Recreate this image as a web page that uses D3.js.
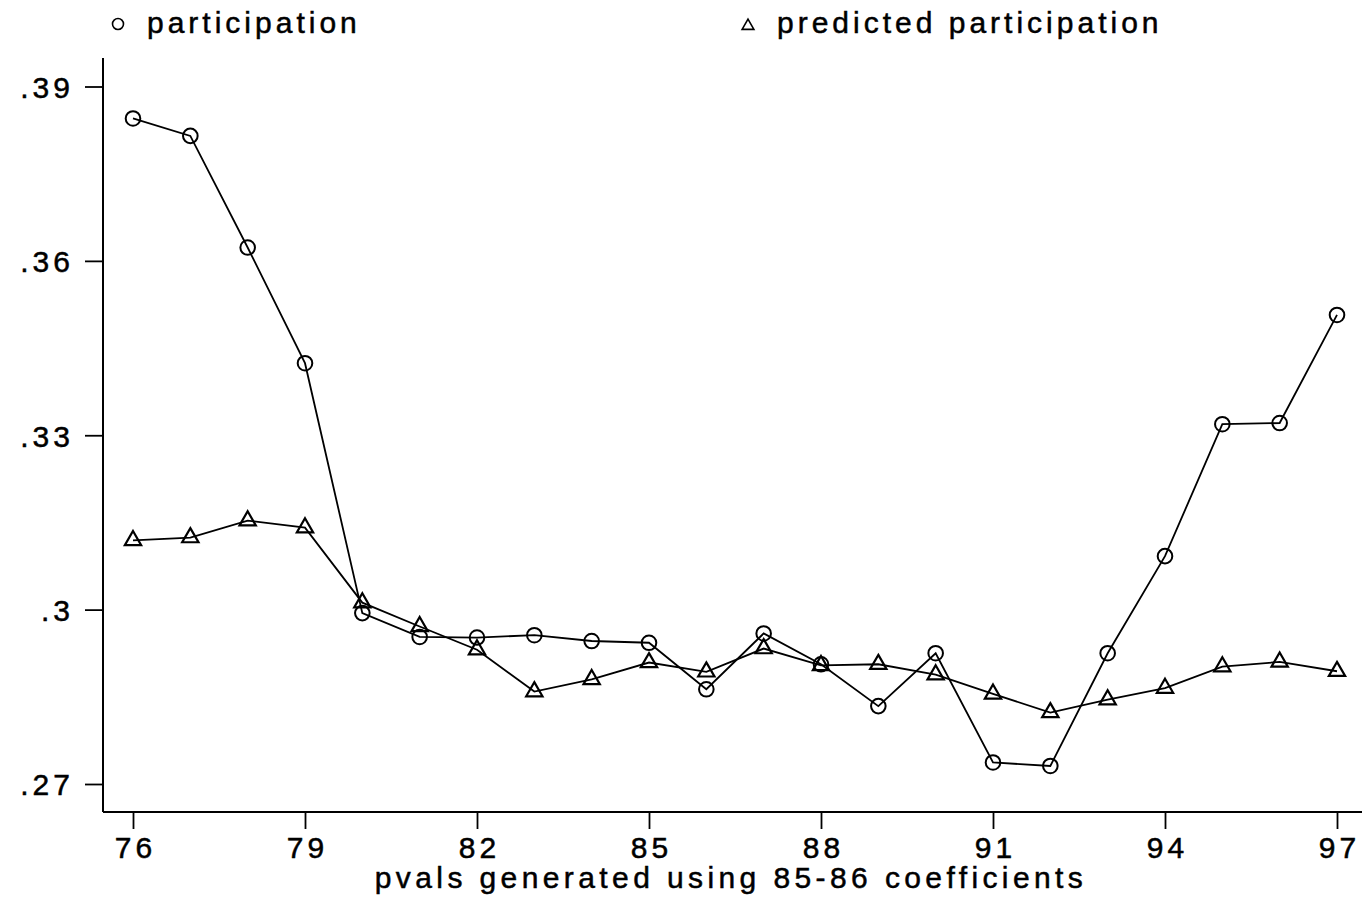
<!DOCTYPE html>
<html>
<head>
<meta charset="utf-8">
<script src="https://cdn.jsdelivr.net/npm/d3@7"></script>
<style>
  body { margin: 0; background: #fff; }
  svg text { font-family: "Liberation Sans", Arial, sans-serif; font-size: 30px; letter-spacing: 4px; fill: #000; stroke: #000; stroke-width: 0.5px; }
</style>
</head>
<body>
<svg class="canvas"></svg>
<script>
// Data
const years = [76, 77, 78, 79, 80, 81, 82, 83, 84, 85, 86, 87, 88, 89, 90, 91, 92, 93, 94, 95, 96, 97];
const participation = [0.3845, 0.3815, 0.3623, 0.3424, 0.2994, 0.2953, 0.2952, 0.2956, 0.2946, 0.2943, 0.2863,
    0.2959, 0.2906, 0.2834, 0.2925, 0.2737, 0.2731, 0.2925, 0.3092, 0.3319, 0.3321, 0.3507];
const predicted = [0.3119, 0.3124, 0.3153, 0.3141, 0.3012, 0.2971, 0.2931, 0.2859, 0.2880, 0.2909, 0.2893,
    0.2933, 0.2904, 0.2906, 0.2888, 0.2855, 0.2823, 0.2845, 0.2865, 0.2902, 0.2910, 0.2894];
const xTicks = [76, 79, 82, 85, 88, 91, 94, 97];
const yTicks = [0.27, 0.30, 0.33, 0.36, 0.39];
const yTickLabels = [".27", ".3", ".33", ".36", ".39"];
const legendLabels = ["participation", "predicted participation"];
const xTitle = "pvals generated using 85-86 coefficients";

// Setting constants
const wWidth = 1362;
const wHeight = 901;
const axisX = 103;      // y axis line position
const axisY = 812;      // x axis line position
const axisTop = 58;

const svg = d3.select('.canvas')
    .attr("width", wWidth)
    .attr("height", wHeight);

// Scales
const xScale = d3.scaleLinear()
    .domain([76, 97])
    .range([133, 1337]);
const yScale = d3.scaleLinear()
    .domain([0.27, 0.39])
    .range([784, 86.5]);

// Axis lines
svg.append("line")
    .attr("x1", axisX).attr("x2", axisX)
    .attr("y1", axisTop).attr("y2", axisY)
    .attr("stroke", "#000").attr("stroke-width", 2);
svg.append("line")
    .attr("x1", axisX).attr("x2", wWidth)
    .attr("y1", axisY).attr("y2", axisY)
    .attr("stroke", "#000").attr("stroke-width", 2);

// Y axis ticks + labels
const yAxis = d3.axisLeft(yScale)
    .tickValues(yTicks)
    .tickSize(18)
    .tickPadding(9)
    .tickFormat((d, i) => yTickLabels[i]);
const yAxisGroup = svg.append("g")
    .attr("transform", `translate(${axisX}, 0)`)
    .call(yAxis);

// X axis ticks + labels
const xAxis = d3.axisBottom(xScale)
    .tickValues(xTicks)
    .tickSize(17)
    .tickPadding(10)
    .tickFormat(d3.format("d"));
const xAxisGroup = svg.append("g")
    .attr("transform", `translate(0, ${axisY})`)
    .call(xAxis);

// styling the axes like the original
[xAxisGroup, yAxisGroup].forEach(g => {
    g.select(".domain").remove();
    g.selectAll("line").attr("stroke", "#000").attr("stroke-width", 1.8);
    g.selectAll("text")
        .attr("fill", "#000")
        .style("font-family", '"Liberation Sans", Arial, sans-serif')
        .style("font-size", "30px");
});
yAxisGroup.selectAll("text").attr("dy", "0.36em").attr("x", -29);
xAxisGroup.selectAll("text").attr("dy", null).attr("y", 46).attr("dx", 2);

// X title
svg.append("text")
    .attr("x", 731)
    .attr("y", 888)
    .style("text-anchor", "middle")
    .style("letter-spacing", "4.4px")
    .text(xTitle);

// Lines
const line = (vals) => d3.line()
    .x((d, i) => xScale(years[i]))
    .y(d => yScale(d))(vals);

svg.append("path")
    .attr("d", line(predicted))
    .attr("fill", "none").attr("stroke", "#000").attr("stroke-width", 1.8);
svg.append("path")
    .attr("d", line(participation))
    .attr("fill", "none").attr("stroke", "#000").attr("stroke-width", 1.8);

// Markers
const tri = d3.symbol().type(d3.symbolTriangle).size(115);
svg.append("g").selectAll("path")
    .data(predicted)
    .enter()
    .append("path")
    .attr("d", tri)
    .attr("transform", (d, i) => `translate(${xScale(years[i])}, ${yScale(d)})`)
    .attr("fill", "none").attr("stroke", "#000").attr("stroke-width", 2.2);

svg.append("g").selectAll("circle")
    .data(participation)
    .enter()
    .append("circle")
    .attr("cx", (d, i) => xScale(years[i]))
    .attr("cy", d => yScale(d))
    .attr("r", 7.3)
    .attr("fill", "none").attr("stroke", "#000").attr("stroke-width", 2);

// Legend
svg.append("circle")
    .attr("cx", 118).attr("cy", 24).attr("r", 5.5)
    .attr("fill", "none").attr("stroke", "#000").attr("stroke-width", 1.6);
svg.append("text")
    .attr("x", 147).attr("y", 33)
    .text(legendLabels[0]);

svg.append("path")
    .attr("d", d3.symbol().type(d3.symbolTriangle).size(60))
    .attr("transform", "translate(748, 26)")
    .attr("fill", "none").attr("stroke", "#000").attr("stroke-width", 1.6);
svg.append("text")
    .attr("x", 777).attr("y", 33)
    .text(legendLabels[1]);
</script>
</body>
</html>
